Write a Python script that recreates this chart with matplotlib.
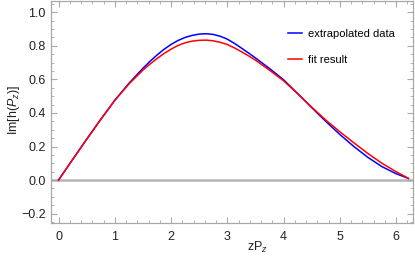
import matplotlib
matplotlib.use('Agg')
import matplotlib.pyplot as plt
from matplotlib.ticker import MultipleLocator, FuncFormatter

plt.rcParams['font.family'] = ['Liberation Sans', 'DejaVu Sans']
plt.rcParams['mathtext.fontset'] = 'custom'
plt.rcParams['mathtext.rm'] = 'Liberation Sans'
plt.rcParams['mathtext.it'] = 'Liberation Sans:italic'

# values
zp = [0, 0.25, 0.5, 0.75, 1.0, 1.25, 1.5, 1.625, 1.75, 1.875, 2.0, 2.125,
      2.25, 2.375, 2.5, 2.625, 2.75, 2.875, 3.0, 3.125, 3.25, 3.375, 3.5,
      3.75, 4.0, 4.25, 4.5, 4.75, 5.0, 5.25, 5.5, 5.75, 6.0, 6.22]
extrapolated = [0, 0.122, 0.243, 0.361, 0.475, 0.576, 0.666, 0.707, 0.745,
                0.779, 0.808, 0.832, 0.850, 0.862, 0.870, 0.872, 0.868,
                0.857, 0.840, 0.815, 0.787, 0.758, 0.728, 0.665, 0.598,
                0.516, 0.432, 0.350, 0.272, 0.200, 0.135, 0.080, 0.038, 0.01]
fit = [0, 0.122, 0.243, 0.361, 0.475, 0.572, 0.655, 0.691, 0.724, 0.754,
       0.780, 0.802, 0.818, 0.828, 0.833, 0.834, 0.830, 0.821, 0.808,
       0.788, 0.765, 0.741, 0.715, 0.655, 0.592, 0.515, 0.435, 0.358,
       0.288, 0.222, 0.158, 0.100, 0.050, 0.01]

fig = plt.figure(figsize=(4.15, 2.63), dpi=100)
ax = fig.add_axes([0.122, 0.152, 0.873, 0.846])

ax.axhline(0, color='#b4b4b4', lw=1.8, zorder=1)
ax.plot(zp, extrapolated, color='blue', lw=1.1, label='extrapolated data',
        zorder=3, solid_joinstyle='round')
ax.plot(zp, fit, color='red', lw=1.1, label='fit result', zorder=3,
        solid_joinstyle='round')

ax.set_xlim(-0.14, 6.3)
ax.set_ylim(-0.256, 1.07)
ax.xaxis.set_major_locator(MultipleLocator(1))
ax.xaxis.set_minor_locator(MultipleLocator(0.2))
ax.yaxis.set_major_locator(MultipleLocator(0.2))
ax.yaxis.set_minor_locator(MultipleLocator(0.05))
ax.yaxis.set_major_formatter(FuncFormatter(
    lambda v, p: ('\u2212%.1f' % abs(v)) if v < -1e-9 else '%.1f' % abs(v)))

for s in ax.spines.values():
    s.set_color('#a8a8a8')
    s.set_linewidth(0.9)
ax.tick_params(which='both', direction='in', top=True, right=True,
               color='#a8a8a8', labelsize=9, labelcolor='#222222')
ax.tick_params(which='major', length=4, width=0.8)
ax.tick_params(which='minor', length=2.2, width=0.6)
ax.tick_params(axis='x', pad=6)

ax.set_xlabel('zP$_z$', fontsize=9, color='#222222')
ax.set_ylabel('Im[h($P_z$)]', fontsize=9, color='#222222')
ax.xaxis.set_label_coords(0.57, -0.108)
ax.yaxis.set_label_coords(-0.101, 0.507)
ax.xaxis.label.set_va('center')
ax.yaxis.label.set_va('center')

ax.legend(loc='upper left', bbox_to_anchor=(0.655, 0.872), frameon=False,
          fontsize=8, handlelength=1.3, handletextpad=0.55, labelspacing=1.4,
          borderpad=0, borderaxespad=0)

fig.savefig('out.png', dpi=100)
